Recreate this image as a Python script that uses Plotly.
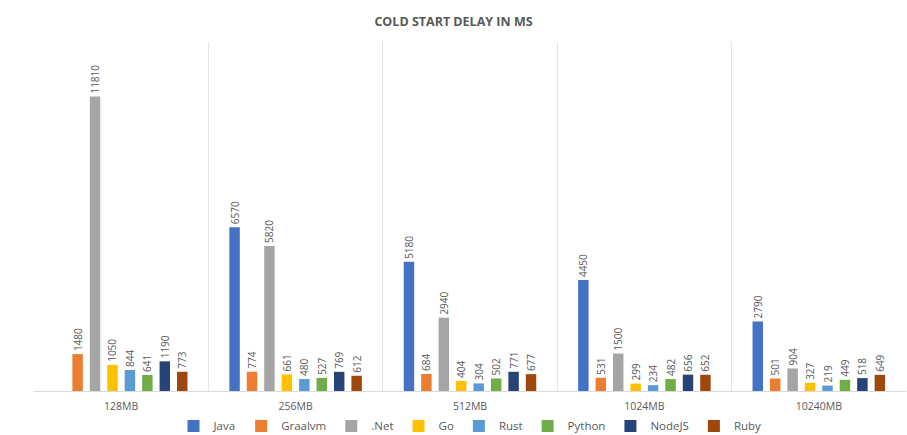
import plotly.graph_objects as go

categories = ["128MB", "256MB", "512MB", "1024MB", "10240MB"]
java = [None, 6570, 5180, 4450, 2790]
graalvm = [1480, 774, 684, 531, 501]
dotnet = [11810, 5820, 2940, 1500, 904]
golang = [1050, 661, 404, 299, 327]
rust = [844, 480, 304, 234, 219]
python = [641, 527, 502, 482, 449]
nodejs = [1190, 769, 771, 656, 518]
ruby = [773, 612, 677, 652, 649]

series = [
    ("Java", java, "#4472C4"),
    ("Graalvm", graalvm, "#ED7D31"),
    (".Net", dotnet, "#A5A5A5"),
    ("Go", golang, "#FFC000"),
    ("Rust", rust, "#5B9BD5"),
    ("Python", python, "#70AD47"),
    ("NodeJS", nodejs, "#264478"),
    ("Ruby", ruby, "#9E480E"),
]

fig = go.Figure()
for name, vals, color in series:
    fig.add_trace(go.Bar(
        name=name, x=categories, y=vals,
        marker=dict(color=color, line=dict(width=0)),
        text=[("" if v is None else str(v)) for v in vals],
        textposition="outside", textangle=-90,
        textfont=dict(family="Open Sans, Calibri, sans-serif", size=10, color="#595959"),
        cliponaxis=False,
    ))

fig.update_layout(
    width=907, height=435,
    margin=dict(l=34, r=1, t=42, b=44, autoexpand=False),
    paper_bgcolor="white", plot_bgcolor="white",
    barmode="group", bargap=0.2, bargroupgap=0.4,
    uniformtext=dict(minsize=10, mode="show"),
    title=dict(text="<b>COLD START DELAY IN MS</b>", x=0.5, xanchor="center",
               y=0.95, yanchor="middle",
               font=dict(family="Open Sans, sans-serif", size=12.5, color="#595959")),
    showlegend=True,
    legend=dict(orientation="h", x=0.5, xanchor="center", y=-0.1, yanchor="middle",
                bgcolor="rgba(0,0,0,0)",
                font=dict(family="Open Sans, sans-serif", size=11.5, color="#595959"),
                itemwidth=30, traceorder="normal", tracegroupgap=0),
    xaxis=dict(type="category", tickson="boundaries", showgrid=True, gridcolor="#E6E6E6",
               gridwidth=1, showline=True, linecolor="#D9D9D9", ticks="",
               ticklabelstandoff=5, automargin=False,
               tickfont=dict(family="Open Sans, sans-serif", size=10.5, color="#595959"),
               zeroline=False),
    yaxis=dict(range=[0, 14000], showgrid=False, showticklabels=False, zeroline=False,
               showline=False, ticks="", automargin=False),
    font=dict(family="Open Sans, sans-serif"),
)

fig.write_html("out.html")
